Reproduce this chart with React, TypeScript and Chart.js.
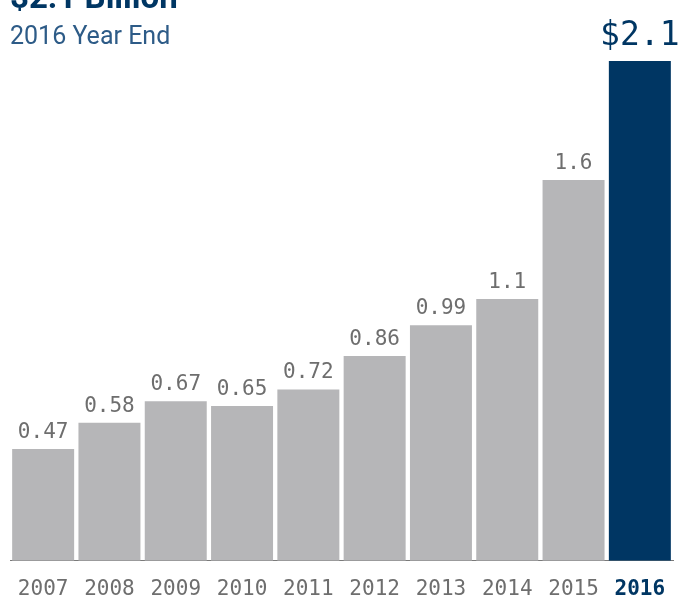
import React, { useEffect, useRef } from "react";
import { Chart, registerables } from "chart.js";

Chart.register(...registerables);

const years = ["2007", "2008", "2009", "2010", "2011", "2012", "2013", "2014", "2015", "2016"];
const values = [0.47, 0.58, 0.67, 0.65, 0.72, 0.86, 0.99, 1.1, 1.6, 2.1];
const titleText = "$2.1 Billion";
const subtitleText = "2016 Year End";

const GREY_BAR = "#b6b6b8";
const DARK = "#003663";
const LABEL_GREY = "#6e6e6e";
const MONO = "'DejaVu Sans Mono', 'Liberation Mono', monospace";
const SANS = "Roboto, 'Noto Sans', sans-serif";

const lastIdx = values.length - 1;

const textPlugin = {
  id: "textPlugin",
  afterDraw(chart: any) {
    const ctx = chart.ctx;
    ctx.save();
    ctx.fillStyle = DARK;
    ctx.font = `bold 33px ${SANS}`;
    ctx.textAlign = "left";
    ctx.textBaseline = "alphabetic";
    ctx.fillText(titleText, 10, 8);
    ctx.fillStyle = "#2d5b87";
    ctx.font = `25px ${SANS}`;
    ctx.fillText(subtitleText, 10, 44);

    const meta = chart.getDatasetMeta(0);
    meta.data.forEach((bar: any, i: number) => {
      const v = values[i];
      ctx.textAlign = "center";
      ctx.textBaseline = "alphabetic";
      if (i === lastIdx) {
        ctx.fillStyle = DARK;
        ctx.font = `33px ${MONO}`;
        ctx.fillText("$" + String(v), bar.x, bar.y - 16);
      } else {
        ctx.fillStyle = LABEL_GREY;
        ctx.font = `21px ${MONO}`;
        ctx.fillText(String(v), bar.x, bar.y - 11);
      }
    });
    ctx.restore();
  },
};

export default function App() {
  const ref = useRef<HTMLCanvasElement>(null);
  useEffect(() => {
    if (!ref.current) return;
    const chart = new Chart(ref.current, {
      type: "bar",
      data: {
        labels: years,
        datasets: [
          {
            data: values,
            backgroundColor: values.map((_, i) => (i === lastIdx ? DARK : GREY_BAR)),
            borderWidth: 0,
            barPercentage: 0.935,
            categoryPercentage: 1,
          },
        ],
      },
      options: {
        responsive: false,
        animation: false,
        maintainAspectRatio: false,
        layout: { padding: { top: 61, left: 10, right: 12, bottom: 0 } },
        plugins: { legend: { display: false }, tooltip: { enabled: false }, title: { display: false } },
        scales: {
          x: {
            grid: { display: false, drawTicks: false },
            border: { display: true, color: "#7a7a7a", width: 1 },
            ticks: {
              padding: 16,
              color: (c: any) => (c.index === lastIdx ? DARK : LABEL_GREY),
              font: (c: any) => ({ family: MONO, size: 21, weight: c.index === lastIdx ? "bold" : "normal" }),
            },
          },
          y: {
            display: false,
            min: 0,
            max: 2.1,
          },
        },
      },
      plugins: [textPlugin],
    });
    return () => chart.destroy();
  }, []);
  return (
    <div style={{ position: "fixed", left: 0, top: 0, width: 685, height: 597, overflow: "hidden", background: "#fff" }}>
      <canvas ref={ref} width={685} height={618} style={{ display: "block", width: 685, height: 618 }} />
    </div>
  );
}
